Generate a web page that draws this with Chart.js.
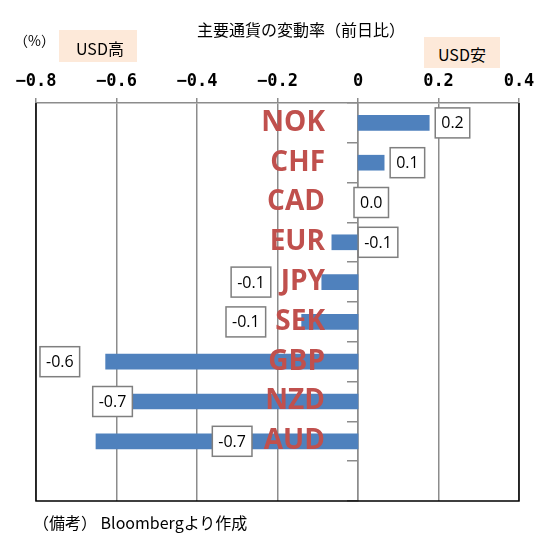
<!DOCTYPE html>
<html lang="ja">
<head>
<meta charset="utf-8">
<title>主要通貨の変動率（前日比）</title>
<script src="https://cdn.jsdelivr.net/npm/chart.js@4.4.1/dist/chart.umd.min.js"></script>
<style>
  body { margin: 0; background: #fff; }
  #wrap { position: relative; width: 549px; height: 545px; font-family: "Noto Sans CJK JP", sans-serif; color: #000; }
  #wrap canvas { position: absolute; left: 0; top: 0; }
  .note { position: absolute; white-space: nowrap; line-height: 1; }
  .tag { position: absolute; box-sizing: border-box; background: #FDE9D9; font-size: 16px; line-height: 1; white-space: nowrap; }
  #title { left: 197px; top: 21px; font-size: 16px; }
  #unit { left: 14px; top: 33px; font-size: 14px; }
  #usdUp { left: 59px; top: 30px; width: 78px; height: 32px; padding: 10px 0 0 17px; }
  #usdDown { left: 424px; top: 37px; width: 76px; height: 31px; padding: 9px 0 0 14px; }
  #source { left: 33px; top: 514px; font-size: 16px; }
</style>
</head>
<body>
<div id="wrap">
  <canvas id="fxChart" width="549" height="545"></canvas>
  <div class="note" id="title">主要通貨の変動率（前日比）</div>
  <div class="note" id="unit">（%）</div>
  <div class="tag" id="usdUp">USD高</div>
  <div class="tag" id="usdDown">USD安</div>
  <div class="note" id="source">（備考） Bloombergより作成</div>
</div>
<script>
// last slot is left empty, as in the original
const currencies = ['NOK', 'CHF', 'CAD', 'EUR', 'JPY', 'SEK', 'GBP', 'NZD', 'AUD', ''];
const changes = [0.177, 0.065, 0.0, -0.065, -0.09, -0.14, -0.627, -0.655, -0.651, null];
const xTickLabels = ['−0.8', '−0.6', '−0.4', '−0.2', '0', '0.2', '0.4'];

// px nudges for the value boxes (they were moved by hand in the original)
const labelShift = [0, 0, -10, 72, -45, -30, -20, 44, 162];

const barLabels = {
  id: 'barLabels',
  afterDatasetsDraw(chart) {
    const ctx = chart.ctx;
    const xs = chart.scales.x, ys = chart.scales.y;
    const zero = xs.getPixelForValue(0);
    ctx.save();

    // big currency names next to the zero line
    ctx.font = 'bold 28px "Open Sans"';
    ctx.fillStyle = '#C0504D';
    ctx.textAlign = 'right';
    ctx.textBaseline = 'middle';
    currencies.forEach((c, i) => {
      if (c) ctx.fillText(c, zero - 33, ys.getPixelForValue(i));
    });

    // boxed values
    ctx.font = '16px "Open Sans"';
    ctx.textAlign = 'center';
    chart.getDatasetMeta(0).data.forEach((bar, i) => {
      const v = changes[i];
      if (v === null) return;
      const txt = v.toFixed(1);
      const w = ctx.measureText(txt).width + 12;
      const h = 30;
      let cx = v >= 0 ? bar.x + 6 + w / 2 : bar.x - 6 - w / 2;
      cx += labelShift[i];
      ctx.fillStyle = '#fff';
      ctx.fillRect(cx - w / 2, bar.y - h / 2, w, h);
      ctx.strokeStyle = '#7f7f7f';
      ctx.lineWidth = 1.5;
      ctx.strokeRect(cx - w / 2, bar.y - h / 2, w, h);
      ctx.fillStyle = '#000';
      ctx.fillText(txt, cx, bar.y + 1);
    });
    ctx.restore();
  }
};

const frame = {
  id: 'frame',
  afterDraw(chart) {
    const { left, right, top, bottom } = chart.chartArea;
    const ctx = chart.ctx;
    ctx.save();
    ctx.strokeStyle = '#000';
    ctx.lineWidth = 1.5;
    ctx.beginPath();
    ctx.moveTo(left, top);
    ctx.lineTo(left, bottom);
    ctx.lineTo(right, bottom);
    ctx.lineTo(right, top);
    ctx.stroke();
    ctx.restore();
  }
};

new Chart(document.getElementById('fxChart'), {
  type: 'bar',
  data: {
    labels: currencies,
    datasets: [{
      data: changes,
      backgroundColor: '#4F81BD',
      borderWidth: 0,
      barThickness: 15
    }]
  },
  options: {
    indexAxis: 'y',
    responsive: false,
    animation: false,
    layout: { padding: { left: 36, right: 30, top: 0, bottom: 44 } },
    plugins: {
      legend: { display: false },
      tooltip: { enabled: false }
    },
    scales: {
      x: {
        type: 'linear',
        position: 'top',
        min: -0.8,
        max: 0.4,
        afterFit(scale) { scale.height = 103; },
        ticks: {
          stepSize: 0.2,
          padding: 6,
          color: '#000',
          font: { family: 'DejaVu Sans Mono', weight: 'bold', size: 17 },
          callback: (v, i) => xTickLabels[i]
        },
        grid: { color: '#8c8c8c', lineWidth: 1.5, tickLength: 5 },
        border: { color: '#8c8c8c', width: 1.5 }
      },
      y: {
        type: 'category',
        position: { x: 0 },
        offset: true,
        ticks: { display: false },
        grid: { offset: true, drawOnChartArea: false, tickLength: 10, color: '#8c8c8c', lineWidth: 1.5 },
        border: { color: '#8c8c8c', width: 1.5 }
      }
    }
  },
  plugins: [barLabels, frame]
});
</script>
</body>
</html>
